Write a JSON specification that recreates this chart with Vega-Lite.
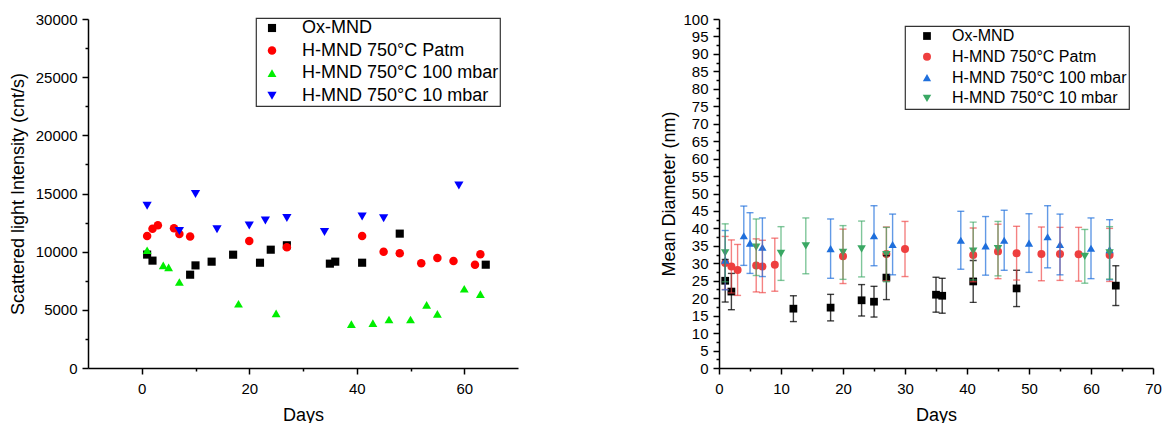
{
  "$schema": "https://vega.github.io/schema/vega-lite/v6.json",
  "background": "white",
  "padding": {"left": 9, "top": 12, "right": 0, "bottom": 0},
  "spacing": 142,
  "config": {
    "view": {"stroke": null},
    "font": "Liberation Sans",
    "axis": {
      "grid": false,
      "domainColor": "#000000",
      "domainWidth": 1.5,
      "tickColor": "#000000",
      "tickWidth": 1.5,
      "tickSize": 6,
      "labelFont": "Liberation Sans",
      "labelFontSize": 15,
      "labelColor": "#000000",
      "labelPadding": 5,
      "labelFlush": false,
      "labelOverlap": false,
      "titleFont": "Liberation Sans",
      "titleFontSize": 18,
      "titleFontWeight": "normal",
      "titleColor": "#000000"
    },
    "axisX": {"labelPadding": 7},
    "legend": {
      "labelFont": "Liberation Sans",
      "labelColor": "#000000",
      "labelLimit": 400,
      "strokeColor": "#333333",
      "strokeWidth": 1.2,
      "orient": "none",
      "direction": "vertical"
    }
  },
  "datasets": {
    "left": [
      {"series": "Ox-MND", "day": 1, "intensity": 9750},
      {"series": "Ox-MND", "day": 2, "intensity": 9230},
      {"series": "Ox-MND", "day": 9, "intensity": 8020},
      {"series": "Ox-MND", "day": 10, "intensity": 8820},
      {"series": "Ox-MND", "day": 13, "intensity": 9140},
      {"series": "Ox-MND", "day": 17, "intensity": 9740},
      {"series": "Ox-MND", "day": 22, "intensity": 9050},
      {"series": "Ox-MND", "day": 24, "intensity": 10170},
      {"series": "Ox-MND", "day": 27, "intensity": 10550},
      {"series": "Ox-MND", "day": 35, "intensity": 8970},
      {"series": "Ox-MND", "day": 36, "intensity": 9140},
      {"series": "Ox-MND", "day": 41, "intensity": 9050},
      {"series": "Ox-MND", "day": 48, "intensity": 11550},
      {"series": "Ox-MND", "day": 64, "intensity": 8880},
      {"series": "H-MND 750°C Patm", "day": 1, "intensity": 11350},
      {"series": "H-MND 750°C Patm", "day": 2, "intensity": 11960},
      {"series": "H-MND 750°C Patm", "day": 3, "intensity": 12270},
      {"series": "H-MND 750°C Patm", "day": 6, "intensity": 12010},
      {"series": "H-MND 750°C Patm", "day": 7, "intensity": 11520},
      {"series": "H-MND 750°C Patm", "day": 9, "intensity": 11300},
      {"series": "H-MND 750°C Patm", "day": 20, "intensity": 10920},
      {"series": "H-MND 750°C Patm", "day": 27, "intensity": 10380},
      {"series": "H-MND 750°C Patm", "day": 41, "intensity": 11350},
      {"series": "H-MND 750°C Patm", "day": 45, "intensity": 10000},
      {"series": "H-MND 750°C Patm", "day": 48, "intensity": 9860},
      {"series": "H-MND 750°C Patm", "day": 52, "intensity": 9000},
      {"series": "H-MND 750°C Patm", "day": 55, "intensity": 9460},
      {"series": "H-MND 750°C Patm", "day": 58, "intensity": 9200},
      {"series": "H-MND 750°C Patm", "day": 62, "intensity": 8880},
      {"series": "H-MND 750°C Patm", "day": 63, "intensity": 9770},
      {"series": "H-MND 750°C 100 mbar", "day": 1, "intensity": 10120},
      {"series": "H-MND 750°C 100 mbar", "day": 4, "intensity": 8820},
      {"series": "H-MND 750°C 100 mbar", "day": 5, "intensity": 8650},
      {"series": "H-MND 750°C 100 mbar", "day": 7, "intensity": 7390},
      {"series": "H-MND 750°C 100 mbar", "day": 18, "intensity": 5520},
      {"series": "H-MND 750°C 100 mbar", "day": 25, "intensity": 4690},
      {"series": "H-MND 750°C 100 mbar", "day": 39, "intensity": 3770},
      {"series": "H-MND 750°C 100 mbar", "day": 43, "intensity": 3850},
      {"series": "H-MND 750°C 100 mbar", "day": 46, "intensity": 4170},
      {"series": "H-MND 750°C 100 mbar", "day": 50, "intensity": 4170},
      {"series": "H-MND 750°C 100 mbar", "day": 53, "intensity": 5430},
      {"series": "H-MND 750°C 100 mbar", "day": 55, "intensity": 4660},
      {"series": "H-MND 750°C 100 mbar", "day": 60, "intensity": 6810},
      {"series": "H-MND 750°C 100 mbar", "day": 63, "intensity": 6350},
      {"series": "H-MND 750°C 10 mbar", "day": 1, "intensity": 13940},
      {"series": "H-MND 750°C 10 mbar", "day": 7, "intensity": 11780},
      {"series": "H-MND 750°C 10 mbar", "day": 10, "intensity": 14950},
      {"series": "H-MND 750°C 10 mbar", "day": 14, "intensity": 11930},
      {"series": "H-MND 750°C 10 mbar", "day": 20, "intensity": 12240},
      {"series": "H-MND 750°C 10 mbar", "day": 23, "intensity": 12670},
      {"series": "H-MND 750°C 10 mbar", "day": 27, "intensity": 12900},
      {"series": "H-MND 750°C 10 mbar", "day": 34, "intensity": 11700},
      {"series": "H-MND 750°C 10 mbar", "day": 41, "intensity": 13020},
      {"series": "H-MND 750°C 10 mbar", "day": 45, "intensity": 12880},
      {"series": "H-MND 750°C 10 mbar", "day": 59, "intensity": 15690}
    ],
    "right": [
      {"series": "Ox-MND", "day": 1, "diameter": 25.0, "err": 6.1},
      {"series": "Ox-MND", "day": 2, "diameter": 21.9, "err": 5.2},
      {"series": "Ox-MND", "day": 12, "diameter": 17.0, "err": 3.7},
      {"series": "Ox-MND", "day": 18, "diameter": 17.3, "err": 3.8},
      {"series": "Ox-MND", "day": 23, "diameter": 19.4, "err": 4.5},
      {"series": "Ox-MND", "day": 25, "diameter": 19.0, "err": 4.4},
      {"series": "Ox-MND", "day": 27, "diameter": 25.9, "err": 6.3},
      {"series": "Ox-MND", "day": 35, "diameter": 21.0, "err": 5.0},
      {"series": "Ox-MND", "day": 36, "diameter": 20.7, "err": 5.0},
      {"series": "Ox-MND", "day": 41, "diameter": 24.8, "err": 6.0},
      {"series": "Ox-MND", "day": 48, "diameter": 22.8, "err": 5.2},
      {"series": "Ox-MND", "day": 64, "diameter": 23.6, "err": 5.7},
      {"series": "H-MND 750°C Patm", "day": 1, "diameter": 30.1, "err": 7.6},
      {"series": "H-MND 750°C Patm", "day": 2, "diameter": 29.1, "err": 7.6},
      {"series": "H-MND 750°C Patm", "day": 3, "diameter": 28.1, "err": 7.3},
      {"series": "H-MND 750°C Patm", "day": 6, "diameter": 29.4, "err": 7.6},
      {"series": "H-MND 750°C Patm", "day": 7, "diameter": 29.1, "err": 7.5},
      {"series": "H-MND 750°C Patm", "day": 9, "diameter": 29.6, "err": 7.6},
      {"series": "H-MND 750°C Patm", "day": 20, "diameter": 32.0, "err": 7.8},
      {"series": "H-MND 750°C Patm", "day": 27, "diameter": 32.7, "err": 7.7},
      {"series": "H-MND 750°C Patm", "day": 30, "diameter": 34.1, "err": 7.9},
      {"series": "H-MND 750°C Patm", "day": 41, "diameter": 32.4, "err": 7.7},
      {"series": "H-MND 750°C Patm", "day": 45, "diameter": 33.4, "err": 7.8},
      {"series": "H-MND 750°C Patm", "day": 48, "diameter": 32.9, "err": 7.7},
      {"series": "H-MND 750°C Patm", "day": 52, "diameter": 32.7, "err": 7.7},
      {"series": "H-MND 750°C Patm", "day": 55, "diameter": 32.7, "err": 7.6},
      {"series": "H-MND 750°C Patm", "day": 58, "diameter": 32.6, "err": 7.7},
      {"series": "H-MND 750°C Patm", "day": 63, "diameter": 32.4, "err": 7.6},
      {"series": "H-MND 750°C 100 mbar", "day": 1, "diameter": 30.9, "err": 8.5},
      {"series": "H-MND 750°C 100 mbar", "day": 4, "diameter": 37.9, "err": 8.5},
      {"series": "H-MND 750°C 100 mbar", "day": 5, "diameter": 35.8, "err": 8.7},
      {"series": "H-MND 750°C 100 mbar", "day": 7, "diameter": 34.6, "err": 8.4},
      {"series": "H-MND 750°C 100 mbar", "day": 18, "diameter": 34.2, "err": 8.5},
      {"series": "H-MND 750°C 100 mbar", "day": 25, "diameter": 37.9, "err": 8.6},
      {"series": "H-MND 750°C 100 mbar", "day": 28, "diameter": 35.4, "err": 8.7},
      {"series": "H-MND 750°C 100 mbar", "day": 39, "diameter": 36.6, "err": 8.3},
      {"series": "H-MND 750°C 100 mbar", "day": 43, "diameter": 35.0, "err": 8.4},
      {"series": "H-MND 750°C 100 mbar", "day": 46, "diameter": 36.6, "err": 8.6},
      {"series": "H-MND 750°C 100 mbar", "day": 50, "diameter": 35.8, "err": 8.4},
      {"series": "H-MND 750°C 100 mbar", "day": 53, "diameter": 37.6, "err": 8.9},
      {"series": "H-MND 750°C 100 mbar", "day": 55, "diameter": 35.4, "err": 8.7},
      {"series": "H-MND 750°C 100 mbar", "day": 60, "diameter": 34.3, "err": 8.7},
      {"series": "H-MND 750°C 100 mbar", "day": 63, "diameter": 33.9, "err": 8.6},
      {"series": "H-MND 750°C 10 mbar", "day": 1, "diameter": 33.0, "err": 8.3},
      {"series": "H-MND 750°C 10 mbar", "day": 6, "diameter": 34.6, "err": 8.1},
      {"series": "H-MND 750°C 10 mbar", "day": 10, "diameter": 32.8, "err": 7.7},
      {"series": "H-MND 750°C 10 mbar", "day": 14, "diameter": 35.0, "err": 8.0},
      {"series": "H-MND 750°C 10 mbar", "day": 20, "diameter": 33.1, "err": 7.7},
      {"series": "H-MND 750°C 10 mbar", "day": 23, "diameter": 34.1, "err": 8.0},
      {"series": "H-MND 750°C 10 mbar", "day": 27, "diameter": 32.5, "err": 7.8},
      {"series": "H-MND 750°C 10 mbar", "day": 41, "diameter": 33.5, "err": 8.3},
      {"series": "H-MND 750°C 10 mbar", "day": 45, "diameter": 34.2, "err": 7.8},
      {"series": "H-MND 750°C 10 mbar", "day": 59, "diameter": 32.0, "err": 7.7},
      {"series": "H-MND 750°C 10 mbar", "day": 63, "diameter": 33.0, "err": 7.5}
    ]
  },
  "resolve": {"scale": {"color": "independent", "shape": "independent", "size": "independent"}},
  "hconcat": [
    {
      "width": 430,
      "height": 349,
      "data": {"name": "left"},
      "layer": [
        {
          "mark": {"type": "point", "filled": true, "opacity": 1, "strokeWidth": 0},
          "encoding": {
            "x": {"field": "day", "type": "quantitative", "scale": {"domain": [-10, 70], "nice": false, "zero": false},
              "axis": {"orient": "bottom", "title": "Days", "values": [0, 20, 40, 60], "titlePadding": 10}},
            "y": {"field": "intensity", "type": "quantitative", "scale": {"domain": [0, 30000], "nice": false},
              "axis": {"orient": "left", "title": "Scattered light Intensity (cnt/s)", "format": "d", "values": [0, 5000, 10000, 15000, 20000, 25000, 30000], "titlePadding": 8}},
            "color": {"field": "series", "type": "nominal",
              "scale": {"domain": ["Ox-MND", "H-MND 750°C Patm", "H-MND 750°C 100 mbar", "H-MND 750°C 10 mbar"], "range": ["#000000", "#ff0000", "#00ee00", "#0000ff"]},
              "legend": {"title": null, "legendX": 168, "legendY": -1, "padding": 1, "rowPadding": 4.6, "labelFontSize": 18, "symbolSize": 45, "symbolOffset": 6, "labelOffset": 21}},
            "shape": {"field": "series", "type": "nominal",
              "scale": {"domain": ["Ox-MND", "H-MND 750°C Patm", "H-MND 750°C 100 mbar", "H-MND 750°C 10 mbar"], "range": ["square", "circle", "triangle-up", "triangle-down"]},
              "legend": {"title": null, "legendX": 168, "legendY": -1, "padding": 1, "rowPadding": 4.6, "labelFontSize": 18, "symbolSize": 45, "symbolOffset": 6, "labelOffset": 21}},
            "size": {"field": "series", "type": "nominal",
              "scale": {"domain": ["Ox-MND", "H-MND 750°C Patm", "H-MND 750°C 100 mbar", "H-MND 750°C 10 mbar"], "range": [66, 85, 140, 145]},
              "legend": null}
          }
        },
        {
          "mark": {"type": "point", "opacity": 0},
          "encoding": {
            "x": {"field": "day", "type": "quantitative", "scale": {"domain": [-10, 70], "nice": false, "zero": false},
              "axis": {"orient": "bottom", "title": null, "labels": false, "domain": false, "tickSize": 3, "values": [10, 30, 50]}},
            "y": {"field": "intensity", "type": "quantitative", "scale": {"domain": [0, 30000], "nice": false},
              "axis": {"orient": "left", "title": null, "labels": false, "domain": false, "tickSize": 3, "values": [2500, 7500, 12500, 17500, 22500, 27500]}}
          }
        }
      ],
      "resolve": {"axis": {"x": "independent", "y": "independent"}}
    },
    {
      "width": 434,
      "height": 349,
      "data": {"name": "right"},
      "layer": [
        {
          "mark": {"type": "point", "filled": true, "opacity": 1, "strokeWidth": 0},
          "encoding": {
            "x": {"field": "day", "type": "quantitative", "scale": {"domain": [0, 70], "nice": false},
              "axis": {"orient": "bottom", "title": "Days", "values": [0, 10, 20, 30, 40, 50, 60, 70], "titlePadding": 10}},
            "y": {"field": "diameter", "type": "quantitative", "scale": {"domain": [0, 100], "nice": false},
              "axis": {"orient": "left", "title": "Mean Diameter (nm)", "values": [0, 5, 10, 15, 20, 25, 30, 35, 40, 45, 50, 55, 60, 65, 70, 75, 80, 85, 90, 95, 100], "titlePadding": 4}},
            "color": {"field": "series", "type": "nominal",
              "scale": {"domain": ["Ox-MND", "H-MND 750°C Patm", "H-MND 750°C 100 mbar", "H-MND 750°C 10 mbar"], "range": ["#000000", "#ee3f3f", "#1f6fdc", "#3aa864"]},
              "legend": {"title": null, "legendX": 186, "legendY": 7, "padding": 2, "rowPadding": 4.8, "labelFontSize": 16, "symbolSize": 55, "symbolOffset": 12, "labelOffset": 17}},
            "shape": {"field": "series", "type": "nominal",
              "scale": {"domain": ["Ox-MND", "H-MND 750°C Patm", "H-MND 750°C 100 mbar", "H-MND 750°C 10 mbar"], "range": ["square", "circle", "triangle-up", "triangle-down"]},
              "legend": {"title": null, "legendX": 186, "legendY": 7, "padding": 2, "rowPadding": 4.8, "labelFontSize": 16, "symbolSize": 55, "symbolOffset": 12, "labelOffset": 17}},
            "size": {"field": "series", "type": "nominal",
              "scale": {"domain": ["Ox-MND", "H-MND 750°C Patm", "H-MND 750°C 100 mbar", "H-MND 750°C 10 mbar"], "range": [60, 72, 165, 165]},
              "legend": null}
          }
        },
        {
          "transform": [{"filter": "datum.series === 'Ox-MND'"}],
          "mark": {"type": "errorbar", "color": "#000000", "ticks": {"size": 7, "thickness": 1.4, "opacity": 0.75}, "rule": {"strokeWidth": 1.4, "opacity": 0.75}},
          "encoding": {
            "x": {"field": "day", "type": "quantitative", "scale": {"domain": [0, 70], "nice": false}, "axis": null},
            "y": {"field": "diameter", "type": "quantitative", "scale": {"domain": [0, 100], "nice": false}, "axis": null},
            "yError": {"field": "err"}
          }
        },
        {
          "transform": [{"filter": "datum.series === 'H-MND 750°C Patm'"}],
          "mark": {"type": "errorbar", "color": "#ee3f3f", "ticks": {"size": 7, "thickness": 1.4, "opacity": 0.65}, "rule": {"strokeWidth": 1.4, "opacity": 0.65}},
          "encoding": {
            "x": {"field": "day", "type": "quantitative", "scale": {"domain": [0, 70], "nice": false}, "axis": null},
            "y": {"field": "diameter", "type": "quantitative", "scale": {"domain": [0, 100], "nice": false}, "axis": null},
            "yError": {"field": "err"}
          }
        },
        {
          "transform": [{"filter": "datum.series === 'H-MND 750°C 100 mbar'"}],
          "mark": {"type": "errorbar", "color": "#1f6fdc", "ticks": {"size": 7, "thickness": 1.4, "opacity": 0.7}, "rule": {"strokeWidth": 1.4, "opacity": 0.7}},
          "encoding": {
            "x": {"field": "day", "type": "quantitative", "scale": {"domain": [0, 70], "nice": false}, "axis": null},
            "y": {"field": "diameter", "type": "quantitative", "scale": {"domain": [0, 100], "nice": false}, "axis": null},
            "yError": {"field": "err"}
          }
        },
        {
          "transform": [{"filter": "datum.series === 'H-MND 750°C 10 mbar'"}],
          "mark": {"type": "errorbar", "color": "#3aa864", "ticks": {"size": 7, "thickness": 1.4, "opacity": 0.65}, "rule": {"strokeWidth": 1.4, "opacity": 0.65}},
          "encoding": {
            "x": {"field": "day", "type": "quantitative", "scale": {"domain": [0, 70], "nice": false}, "axis": null},
            "y": {"field": "diameter", "type": "quantitative", "scale": {"domain": [0, 100], "nice": false}, "axis": null},
            "yError": {"field": "err"}
          }
        },
        {
          "mark": {"type": "point", "opacity": 0},
          "encoding": {
            "x": {"field": "day", "type": "quantitative", "scale": {"domain": [0, 70], "nice": false},
              "axis": {"orient": "bottom", "title": null, "labels": false, "domain": false, "tickSize": 3, "values": [5, 15, 25, 35, 45, 55, 65]}},
            "y": {"field": "diameter", "type": "quantitative", "scale": {"domain": [0, 100], "nice": false},
              "axis": {"orient": "left", "title": null, "labels": false, "domain": false, "tickSize": 3, "values": [2.5, 7.5, 12.5, 17.5, 22.5, 27.5, 32.5, 37.5, 42.5, 47.5, 52.5, 57.5, 62.5, 67.5, 72.5, 77.5, 82.5, 87.5, 92.5, 97.5]}}
          }
        }
      ],
      "resolve": {"axis": {"x": "independent", "y": "independent"}}
    }
  ]
}
